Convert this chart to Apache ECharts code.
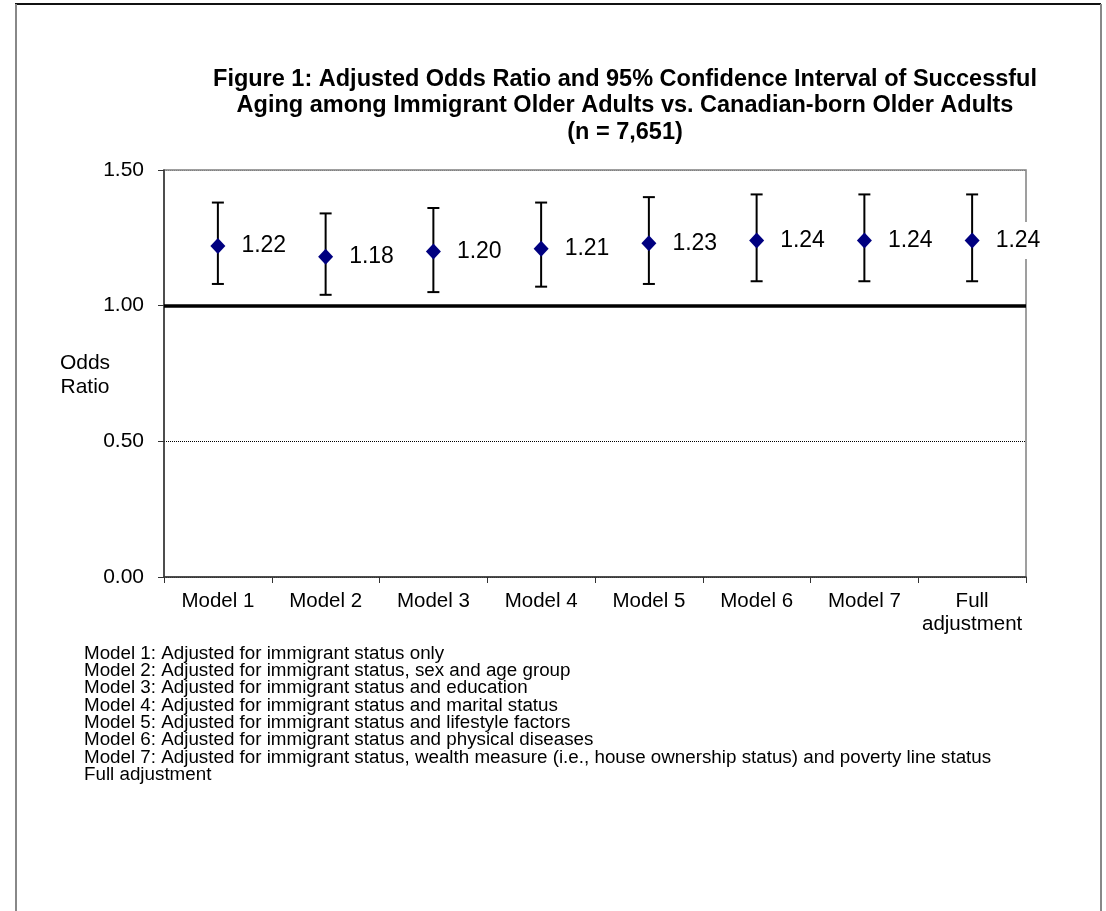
<!DOCTYPE html>
<html>
<head>
<meta charset="utf-8">
<title>Figure 1: Adjusted Odds Ratio</title>
<script src="https://cdn.jsdelivr.net/npm/echarts@6/dist/echarts.min.js"></script>
<style>
  html, body { margin: 0; padding: 0; background: #fff; }
  #chart { width: 1106px; height: 911px; }
</style>
</head>
<body>
<div id="chart"></div>
<script>
// values
const categories = ['Model 1', 'Model 2', 'Model 3', 'Model 4', 'Model 5', 'Model 6', 'Model 7', 'Full\nadjustment']
const oddsRatio = [1.22, 1.18, 1.20, 1.21, 1.23, 1.24, 1.24, 1.24]
const ciLower = [1.08, 1.04, 1.05, 1.07, 1.08, 1.09, 1.09, 1.09]
const ciUpper = [1.38, 1.34, 1.36, 1.38, 1.40, 1.41, 1.41, 1.41]
const yTicks = [0, 0.5, 1.0, 1.5]
const refValue = 1.0

const titleLines = [
  'Figure 1: Adjusted Odds Ratio and 95% Confidence Interval of Successful',
  'Aging among Immigrant Older Adults vs. Canadian-born Older Adults',
  '(n = 7,651)'
]
const footnotes = [
  'Model 1: Adjusted for immigrant status only',
  'Model 2: Adjusted for immigrant status, sex and age group',
  'Model 3: Adjusted for immigrant status and education',
  'Model 4: Adjusted for immigrant status and marital status',
  'Model 5: Adjusted for immigrant status and lifestyle factors',
  'Model 6: Adjusted for immigrant status and physical diseases',
  'Model 7: Adjusted for immigrant status, wealth measure (i.e., house ownership status) and poverty line status',
  'Full adjustment'
]

const FONT = '"Liberation Sans", Arial, sans-serif'

function renderErrorBar(params, api) {
  const x = api.value(0)
  const lo = api.coord([x, api.value(1)])
  const hi = api.coord([x, api.value(2)])
  const half = 6
  const style = { stroke: '#000', lineWidth: 2 }
  return {
    type: 'group',
    children: [
      { type: 'line', shape: { x1: lo[0], y1: lo[1], x2: hi[0], y2: hi[1] }, style: style },
      { type: 'line', shape: { x1: lo[0] - half, y1: lo[1], x2: lo[0] + half, y2: lo[1] }, style: style },
      { type: 'line', shape: { x1: hi[0] - half, y1: hi[1], x2: hi[0] + half, y2: hi[1] }, style: style }
    ]
  }
}

const chart = echarts.init(document.getElementById('chart'))

chart.setOption({
  animation: false,
  backgroundColor: '#fff',
  textStyle: { fontFamily: FONT },
  grid: {
    left: 164,
    top: 170,
    right: 80,
    bottom: 334,
    show: true,
    borderColor: '#808080',
    borderWidth: 1.5
  },
  xAxis: {
    type: 'category',
    data: categories,
    boundaryGap: true,
    axisLine: { lineStyle: { color: '#333', width: 1.5 } },
    axisTick: { show: true, length: 6, lineStyle: { color: '#333' } },
    axisLabel: { interval: 0, fontSize: 20.5, color: '#000', margin: 13, lineHeight: 23, fontFamily: FONT },
    splitLine: { show: false }
  },
  yAxis: {
    type: 'value',
    min: yTicks[0],
    max: yTicks[yTicks.length - 1],
    interval: yTicks[1] - yTicks[0],
    axisLine: { show: true, lineStyle: { color: '#333', width: 1.5 } },
    axisTick: { show: true, length: 6, lineStyle: { color: '#333' } },
    axisLabel: {
      fontSize: 21, color: '#000', margin: 20, fontFamily: FONT,
      formatter: function (v) { return v.toFixed(2) }
    },
    splitLine: { show: true, lineStyle: { color: ['#333', '#000', '#000', '#808080'], type: 'dotted', width: 1 } }
  },
  series: [
    {
      name: 'CI',
      type: 'custom',
      renderItem: renderErrorBar,
      encode: { x: 0, y: [1, 2] },
      data: categories.map(function (c, i) { return [i, ciLower[i], ciUpper[i]] }),
      z: 2,
      markLine: {
        silent: true,
        symbol: 'none',
        label: { show: false },
        lineStyle: { color: '#000', width: 3.5, type: 'solid' },
        data: [{ yAxis: refValue }]
      }
    },
    {
      name: 'Odds ratio',
      type: 'scatter',
      data: oddsRatio,
      symbol: 'diamond',
      symbolSize: [15, 16],
      itemStyle: { color: '#000080', opacity: 1 },
      z: 3,
      label: {
        show: true,
        position: 'right',
        distance: 13,
        fontSize: 23,
        color: '#000',
        fontFamily: FONT,
        backgroundColor: '#fff',
        padding: [7, 3],
        formatter: function (p) { return p.value.toFixed(2) }
      }
    }
  ],
  graphic: [
    // outer frame of the figure
    { type: 'line', shape: { x1: 15, y1: 4, x2: 1101, y2: 4 }, style: { stroke: '#111', lineWidth: 2 } },
    { type: 'line', shape: { x1: 16, y1: 4, x2: 16, y2: 911 }, style: { stroke: '#888', lineWidth: 2 } },
    { type: 'line', shape: { x1: 1101, y1: 4, x2: 1101, y2: 911 }, style: { stroke: '#888', lineWidth: 2 } },
    {
      type: 'text', x: 625, y: 66,
      style: {
        text: titleLines.join('\n'), textAlign: 'center', fill: '#000',
        font: 'bold 23.5px ' + FONT, lineHeight: 26.5
      }
    },
    {
      type: 'text', x: 85, y: 351,
      style: { text: 'Odds\nRatio', textAlign: 'center', fill: '#000', font: '21px ' + FONT, lineHeight: 24 }
    },
    {
      type: 'text', x: 84, y: 645,
      style: { text: footnotes.join('\n'), textAlign: 'left', fill: '#000', font: '18.8px ' + FONT, lineHeight: 17.3 }
    }
  ]
})
</script>
</body>
</html>
